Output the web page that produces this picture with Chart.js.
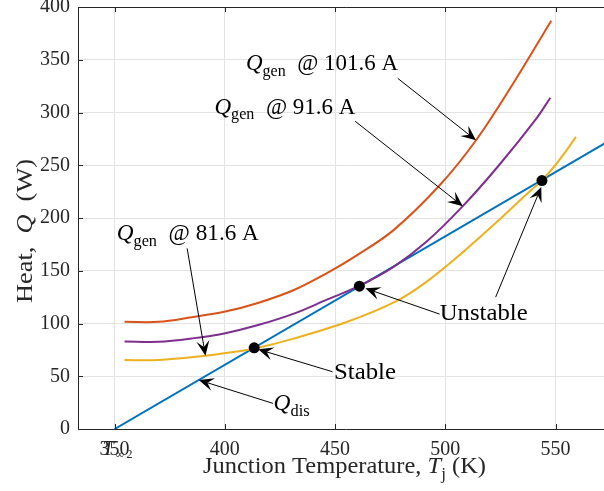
<!DOCTYPE html>
<html>
<head>
<meta charset="utf-8">
<script src="https://cdn.jsdelivr.net/npm/chart.js@4.4.0/dist/chart.umd.min.js"></script>
<style>
  html, body { margin: 0; padding: 0; background: #fff; overflow: hidden; }
  #wrap { width: 620px; height: 491px; }
</style>
</head>
<body>
<div id="wrap"><canvas id="chart" width="620" height="491"></canvas></div>
<script>
// tick labels
const xTicks = [350, 400, 450, 500, 550];
const yTicks = [0, 50, 100, 150, 200, 250, 300, 350, 400];

// Q_dis (blue line)
const disT = [350, 575];
const disQ = [0, 274];

// Q_gen @ 101.6 A
const gen101T = [354.5, 370, 385, 399.7, 415, 431.6, 446.5, 460, 476.5, 497.4, 513.9, 530.3, 548];
const gen101Q = [101.6, 101.6, 106, 111.1, 119.5, 132, 148, 164.8, 188.5, 231, 273.7, 326, 387];

// Q_gen @ 91.6 A
const gen91T = [354.5, 370, 385.2, 399.7, 415.1, 431.6, 446.5, 460.7, 476.5, 491.4, 507.9, 524.3, 541.5, 547.6];
const gen91Q = [83, 82.7, 85.9, 90.6, 98.5, 109.6, 122.8, 135.4, 153.7, 177.4, 211.2, 250, 295, 314];

// Q_gen @ 81.6 A
const gen81T = [354.5, 370, 391.2, 399.7, 413.6, 431.6, 455.5, 478, 491.4, 506.4, 524.3, 536.3, 543.8, 549.8, 555, 559.2];
const gen81Q = [65.4, 65.4, 69.4, 71.7, 76.4, 85.9, 101.6, 121.5, 139.5, 164.8, 198, 221.6, 235.8, 250, 264.3, 277];

// operating points (stable, unstable, unstable)
const ptT = [413.3, 461, 543.8];
const ptQ = [77, 135.4, 235.5];

const SERIF = '"Liberation Serif", "Times New Roman", serif';
const INK = '#262626';

// annotations: text parts [string, kind] kind: '' roman, 'i' italic, 's' subscript
const notes = [
  { parts: [['Q', 'i'], ['gen', 's'], ['  @ 101.6 A', '']], at: [409.6, 340], w: 152, arrows: [[[478.4, 332.4], [513.9, 273.7]]] },
  { parts: [['Q', 'i'], ['gen', 's'], ['  @ 91.6 A', '']], at: [395.3, 299], w: 141, arrows: [[[459.1, 291.7], [507.9, 211.2]]] },
  { parts: [['Q', 'i'], ['gen', 's'], ['  @ 81.6 A', '']], at: [351.0, 179], w: 142, arrows: [[[382.9, 171.2], [391.2, 69.4]]] },
  { parts: [['Unstable', '']], at: [497.4, 103.2], w: 88, arrows: [[[497.4, 108.9], [463.7, 133.3]], [[522.8, 125], [543.5, 229.5]]] },
  { parts: [['Stable', '']], at: [449.5, 47.1], w: 62, arrows: [[[448.8, 54.3], [415.1, 75.5]]] },
  { parts: [['Q', 'i'], ['dis', 's']], at: [422.1, 18], w: 36, arrows: [[[421.8, 24.3], [388.2, 46.4]]] }
];

const toXY = (xs, ys) => xs.map((v, i) => ({ x: v, y: ys[i] }));

function richDraw(ctx, parts, x, y, fs, w) {
  const segs = parts.map(([t, k]) => {
    const size = k === 's' ? fs * 0.7 : fs;
    const font = (k === 'i' ? 'italic ' : '') + size + 'px ' + SERIF;
    ctx.font = font;
    return { t, font, dy: k === 's' ? fs * 0.24 : 0, w: ctx.measureText(t).width };
  });
  const nat = segs.reduce((s, g) => s + g.w, 0);
  const sx = w ? w / nat : 1;
  ctx.save();
  ctx.translate(x, y);
  ctx.scale(sx, 1);
  ctx.textAlign = 'left';
  ctx.textBaseline = 'alphabetic';
  let cx = 0;
  segs.forEach(g => { ctx.font = g.font; ctx.fillText(g.t, cx, g.dy); cx += g.w; });
  ctx.restore();
}

function arrow(ctx, x0, y0, x1, y1) {
  const dx = x1 - x0, dy = y1 - y0;
  const len = Math.hypot(dx, dy);
  const ux = dx / len, uy = dy / len;
  const nx = -uy, ny = ux;
  const L = 15, W = 6.5, back = 9;
  ctx.beginPath();
  ctx.moveTo(x0, y0);
  ctx.lineTo(x1 - ux * back, y1 - uy * back);
  ctx.stroke();
  ctx.beginPath();
  ctx.moveTo(x1, y1);
  ctx.lineTo(x1 - ux * L + nx * W, y1 - uy * L + ny * W);
  ctx.lineTo(x1 - ux * back, y1 - uy * back);
  ctx.lineTo(x1 - ux * L - nx * W, y1 - uy * L - ny * W);
  ctx.closePath();
  ctx.fill();
}

const deco = {
  id: 'deco',
  afterDraw(chart) {
    const { ctx, chartArea: a, scales: { x, y } } = chart;
    ctx.save();
    // box top line + inward ticks
    ctx.strokeStyle = INK;
    ctx.lineWidth = 1;
    ctx.beginPath();
    ctx.moveTo(a.left, a.top + 0.5);
    ctx.lineTo(a.right, a.top + 0.5);
    xTicks.forEach(v => {
      const px = Math.round(x.getPixelForValue(v)) + 0.5;
      ctx.moveTo(px, a.bottom); ctx.lineTo(px, a.bottom - 5);
      ctx.moveTo(px, a.top); ctx.lineTo(px, a.top + 5);
    });
    yTicks.forEach(v => {
      const py = Math.round(y.getPixelForValue(v)) + 0.5;
      ctx.moveTo(a.left, py); ctx.lineTo(a.left + 5, py);
    });
    ctx.stroke();

    // annotations
    ctx.fillStyle = '#000';
    ctx.strokeStyle = '#000';
    ctx.lineWidth = 1;
    notes.forEach(n => {
      n.arrows.forEach(([f, t]) => {
        arrow(ctx, x.getPixelForValue(f[0]), y.getPixelForValue(f[1]),
          x.getPixelForValue(t[0]), y.getPixelForValue(t[1]));
      });
      richDraw(ctx, n.parts, x.getPixelForValue(n.at[0]), y.getPixelForValue(n.at[1]), 23, n.w);
    });

    // axis titles
    ctx.fillStyle = INK;
    richDraw(ctx, [['Junction Temperature, ', ''], ['T', 'i'], ['j', 's'], [' (K)', '']], 203, 473, 23, 283);
    ctx.save();
    ctx.translate(32, 231);
    ctx.rotate(-Math.PI / 2);
    richDraw(ctx, [['Heat,\u2002', ''], ['Q', 'i'], ['\u2002(W)', '']], -72, 0, 23, 144);
    ctx.restore();

    // overlapping label at the 350 tick
    const p350 = x.getPixelForValue(350);
    ctx.font = 'italic 20px ' + SERIF;
    ctx.fillText('T', p350 - 12, 455);
    ctx.font = '12px ' + SERIF;
    ctx.fillText('\u221e', p350 + 1, 458);
    ctx.fillText('2', p350 + 12, 458);
    ctx.restore();
  }
};

const curve = (label, xs, ys, color, order) => ({
  label, data: toXY(xs, ys), showLine: true, borderColor: color, borderWidth: 2,
  pointRadius: 0, tension: 0.35, order
});

new Chart(document.getElementById('chart'), {
  type: 'scatter',
  data: {
    datasets: [
      { label: 'points', data: toXY(ptT, ptQ), showLine: false, pointRadius: 5.5, pointBackgroundColor: '#000', pointBorderColor: '#000', pointBorderWidth: 0, order: 0 },
      curve('Qgen 81.6 A', gen81T, gen81Q, '#EDB120', 1),
      curve('Qgen 91.6 A', gen91T, gen91Q, '#7E2F8E', 2),
      curve('Qgen 101.6 A', gen101T, gen101Q, '#D95319', 3),
      { label: 'Qdis', data: toXY(disT, disQ), showLine: true, borderColor: '#0072BD', borderWidth: 2, pointRadius: 0, order: 4 }
    ]
  },
  options: {
    responsive: false,
    animation: false,
    devicePixelRatio: 1,
    layout: { padding: { top: 7, right: 0, left: 0, bottom: 0 } },
    plugins: { legend: { display: false }, tooltip: { enabled: false } },
    scales: {
      x: {
        type: 'linear',
        min: 333.4,
        max: 576.7,
        afterBuildTicks: s => { s.ticks = xTicks.map(v => ({ value: v })); },
        afterFit: s => { s.height = 62; s.paddingLeft = 0; s.paddingRight = 0; },
        grid: { color: '#e3e3e3', lineWidth: 1, drawTicks: false },
        border: { display: true, color: INK, width: 1 },
        ticks: { color: INK, padding: 9, maxRotation: 0, font: { family: SERIF, size: 20 } }
      },
      y: {
        type: 'linear',
        min: 0,
        max: 400,
        afterBuildTicks: s => { s.ticks = yTicks.map(v => ({ value: v })); },
        afterFit: s => { s.width = 78; s.paddingTop = 0; s.paddingBottom = 0; },
        grid: { color: '#e3e3e3', lineWidth: 1, drawTicks: false },
        border: { display: true, color: INK, width: 1 },
        ticks: { color: INK, padding: 8, font: { family: SERIF, size: 20 } }
      }
    }
  },
  plugins: [deco]
});
</script>
</body>
</html>
